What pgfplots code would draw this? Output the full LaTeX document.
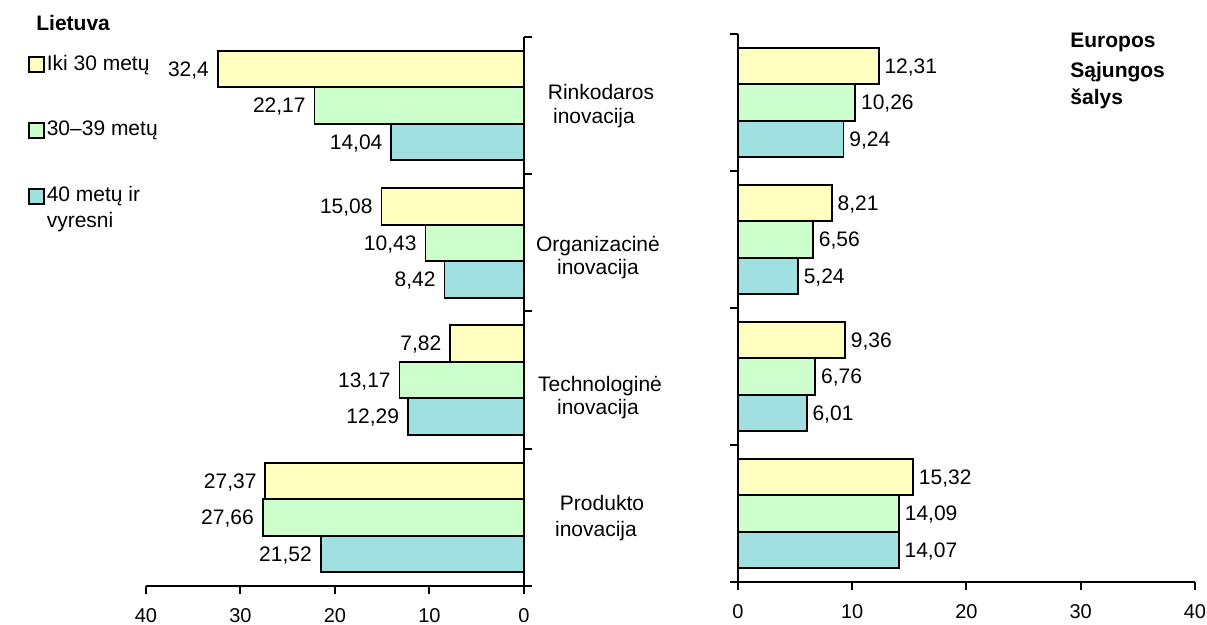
\documentclass[border=0pt]{standalone}
\usepackage{pgfplots}
\pgfplotsset{compat=1.18}
\usepackage{fontspec}
\setmainfont{Liberation Sans}
\definecolor{cy}{HTML}{FFFFC0}
\definecolor{cg}{HTML}{CCFFCC}
\definecolor{cb}{HTML}{A0E0E0}
\pgfplotsset{
  common/.style={
    scale only axis,
    xbar, point meta=x,
    bar width=18.25pt,
    xmin=0, xmax=40, ymin=-0.5, ymax=3.5,
    xtick={0,10,20,30,40},
    ytick={-0.5,0.5,1.5,2.5,3.5}, yticklabels={},
    axis x line*=bottom,
    tick align=outside,
    major tick length=4pt,
    axis line style={line width=1pt},
    every tick/.style={black, line width=1pt},
    tick label style={font=\fontsize{10}{12}\selectfont},
    xticklabel style={yshift=-3.5pt, text depth=0pt},
    /pgf/number format/use comma,
    /pgf/number format/assume math mode=true,
    nodes near coords,
    clip=false,
  },
  bars/.style={draw=black, line width=0.9pt, fill=#1},
}
\begin{document}
\begin{tikzpicture}
% ---------- Lietuva ----------
\begin{axis}[common,
  at={(167.5pt,156.75pt)}, anchor=center,
  width=189pt, height=274.5pt,
  x dir=reverse,
  axis y line*=right,
  every node near coord/.append style={anchor=east, inner xsep=4pt, text depth=0pt, font=\fontsize{10.5}{12}\selectfont},
]
\addplot[bars=cy, bar shift=18.25pt] coordinates {(32.4,3) (15.08,2) (7.82,1) (27.37,0)};
\addplot[bars=cg, bar shift=0pt] coordinates {(22.17,3) (10.43,2) (13.17,1) (27.66,0)};
\addplot[bars=cb, bar shift=-18.25pt] coordinates {(14.04,3) (8.42,2) (12.29,1) (21.52,0)};
\end{axis}
% ---------- ES ----------
\begin{axis}[common,
  at={(483.25pt,158.5pt)}, anchor=center,
  width=228.5pt, height=274pt,
  axis y line*=left,
  every node near coord/.append style={anchor=west, inner xsep=2.5pt, text depth=0pt, font=\fontsize{10.5}{12}\selectfont},
  legend image code/.code={\draw[#1, line width=0.9pt] (0pt,-3.75pt) rectangle (7.5pt,3.75pt);},
  legend cell align=left,
  legend style={at={(-1.5536,0.962)}, anchor=north west, draw=none, fill=none,
    inner sep=0pt, row sep=23.55pt, font=\fontsize{10.5}{13}\selectfont,
    nodes={text height=7.4pt, text depth=2pt, inner ysep=0pt, inner xsep=0.8pt}},
]
\addlegendimage{draw=black, fill=cy}
\addlegendentry{Iki 30 metų}
\addlegendimage{draw=black, fill=cg}
\addlegendentry{30–39 metų}
\addlegendimage{draw=black, fill=cb}
\addlegendentry{\begin{tabular}[t]{@{}l@{}}40 metų ir\\vyresni\end{tabular}}
\addplot[bars=cy, bar shift=18.25pt] coordinates {(12.31,3) (8.21,2) (9.36,1) (15.32,0)};
\addplot[bars=cg, bar shift=0pt] coordinates {(10.26,3) (6.56,2) (6.76,1) (14.09,0)};
\addplot[bars=cb, bar shift=-18.25pt] coordinates {(9.24,3) (5.24,2) (6.01,1) (14.07,0)};
\end{axis}
% ---------- texts ----------
\begin{scope}[every node/.style={inner sep=0pt, font=\fontsize{10.5}{12}\selectfont, anchor=base}]
\node at (300.5pt,262.85pt) {Rinkodaros};
\node at (297pt,250.5pt) {inovacija};
\node at (299pt,186.65pt) {Organizacinė};
\node at (299pt,175pt) {inovacija};
\node at (300pt,116.5pt) {Technologinė};
\node at (299pt,105.35pt) {inovacija};
\node at (301pt,57.15pt) {Produkto};
\node at (298pt,44.15pt) {inovacija};
\end{scope}
\begin{scope}[every node/.style={inner sep=0pt, font=\bfseries\fontsize{10.5}{12}\selectfont, anchor=base west}]
\node at (18pt,297pt) {Lietuva};
\node at (535pt,288.5pt) {Europos};
\node at (535pt,273.65pt) {Sąjungos};
\node at (535pt,260pt) {šalys};
\end{scope}
\pgfresetboundingbox
\path[use as bounding box] (0,0) rectangle (603.5pt,312.5pt);
\end{tikzpicture}
\end{document}
